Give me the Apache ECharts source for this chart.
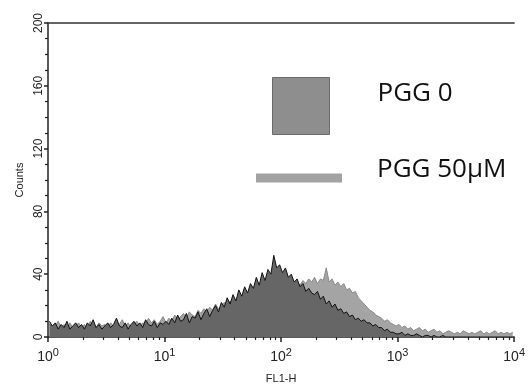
<!DOCTYPE html>
<html>
<head>
<meta charset="utf-8">
<script src="https://cdn.jsdelivr.net/npm/echarts@6/dist/echarts.min.js"></script>
<style>
  html, body { margin: 0; padding: 0; background: #fff; }
  #chart { width: 528px; height: 389px; }
</style>
</head>
<body>
<div id="chart"></div>
<script>
// FL1-H histogram: 160 log-spaced channels over 4 decades (40 channels per decade)
const channelsPerDecade = 40;
const seriesNames = ['PGG 0', 'PGG 50μM'];
const xTickLabels = ['10^0', '10^1', '10^2', '10^3', '10^4'];
const yTicks = [0, 40, 80, 120, 160, 200];

// Counts per channel, PGG 0 (dark histogram)
const countsPGG0 = [
  10,7,9,5,8,6,10,5,7,9,
  6,8,5,9,7,11,6,8,5,7,
  9,6,8,12,7,6,9,5,8,10,
  7,9,6,11,8,7,10,6,9,8,
  10,8,12,9,14,10,11,15,9,13,
  12,16,11,15,18,13,17,20,16,22,
  19,25,21,27,23,30,26,32,28,34,
  31,38,33,41,36,43,40,52,44,46,
  41,44,38,40,35,37,32,34,29,31,
  28,27,29,24,26,21,23,19,21,17,
  18,15,16,13,14,11,12,10,11,9,
  9,7,8,6,6,4,5,3,3,2,
  2,3,1,2,1,1,2,1,0,1,
  1,0,1,0,0,1,0,0,0,0,
  0,0,0,0,0,0,0,0,0,0,
  0,0,0,0,0,0,0,0,0,0
];

// Counts per channel, PGG 50μM (light histogram)
const countsPGG50 = [
  8,5,7,10,6,8,5,9,6,7,
  9,6,8,5,10,7,6,9,7,8,
  6,9,7,5,8,11,7,9,6,8,
  10,7,9,8,12,9,11,8,10,13,
  9,12,10,14,11,13,15,12,16,14,
  13,17,15,18,16,19,17,21,18,20,
  22,19,23,21,24,22,26,23,25,27,
  24,28,26,29,27,30,28,31,29,32,
  30,33,31,34,32,35,33,36,34,37,
  35,38,34,37,36,44,35,37,33,35,
  32,34,30,31,28,29,25,23,21,19,
  17,16,14,13,12,10,11,9,8,7,
  8,6,7,5,6,4,5,6,4,5,
  3,4,5,3,4,2,3,4,3,2,
  3,2,4,3,2,3,2,3,4,2,
  3,2,3,4,2,3,2,3,2,3
];

function toPairs(counts) {
  return counts.map((c, i) => [Math.pow(10, (i + 0.5) / channelsPerDecade), c]);
}

const supMap = {};
xTickLabels.forEach(t => { const p = t.split('^'); supMap[Math.pow(10, +p[1])] = p; });

const chart = echarts.init(document.getElementById('chart'), null, { renderer: 'canvas' });
const font = 'Liberation Sans, Arial, sans-serif';

chart.setOption({
  animation: false,
  backgroundColor: '#ffffff',
  grid: { left: 48, right: 4, top: 23, bottom: 51, show: false },
  legend: [
    {
      data: [{ name: seriesNames[0], itemStyle: { color: '#8e8e8e', borderColor: '#6a6a6a', borderWidth: 1 } }],
      left: 267, top: 72,
      icon: 'rect', itemWidth: 57, itemHeight: 57,
      formatter: n => '{t|' + n + '}',
      textStyle: { rich: { t: { fontFamily: 'Open Sans', fontSize: 26, color: '#111', padding: [0, 0, 24, 43] } } },
      selectedMode: false
    },
    {
      data: [{ name: seriesNames[1], itemStyle: { color: '#a2a2a2' } }],
      left: 251, top: 152,
      icon: 'rect', itemWidth: 86, itemHeight: 9,
      formatter: n => '{t|' + n + '}',
      textStyle: { rich: { t: { fontFamily: 'Open Sans', fontSize: 26, color: '#111', padding: [0, 0, 16, 30] } } },
      selectedMode: false
    }
  ],
  xAxis: [{
    type: 'log', logBase: 10, min: 1, max: 10000,
    name: 'FL1-H', nameLocation: 'middle', nameGap: 36,
    nameTextStyle: { fontFamily: font, fontSize: 11, color: '#222' },
    axisLine: { lineStyle: { color: '#222', width: 1.5 } },
    axisTick: { length: 5, lineStyle: { color: '#222', width: 1.5 } },
    minorTick: { show: true, splitNumber: 9, length: 3, lineStyle: { color: '#222', width: 1.2 } },
    splitLine: { show: false },
    axisLabel: {
      margin: 10,
      formatter: function (v) {
        const p = supMap[v];
        return p ? '{b|' + p[0] + '}{s|' + p[1] + '}' : '';
      },
      rich: {
        b: { fontFamily: font, fontSize: 14, color: '#222' },
        s: { fontFamily: font, fontSize: 11, color: '#222', padding: [0, 0, 9, 0] }
      }
    }
  }, {
    type: 'value', position: 'top', min: 0, max: 1,
    axisLine: { show: true, onZero: false, lineStyle: { color: '#333', width: 1.5 } },
    axisTick: { show: false }, axisLabel: { show: false }, splitLine: { show: false }
  }],
  yAxis: {
    type: 'value', min: yTicks[0], max: yTicks[yTicks.length - 1], interval: 40,
    name: 'Counts', nameLocation: 'middle', nameGap: 15,
    nameTextStyle: { fontFamily: font, fontSize: 11, color: '#222' },
    axisLine: { show: true, lineStyle: { color: '#222', width: 1.5 } },
    axisTick: { show: true, length: 4, lineStyle: { color: '#222', width: 1.5 } },
    minorTick: { show: true, splitNumber: 4, length: 3, lineStyle: { color: '#222', width: 1.2 } },
    splitLine: { show: false },
    axisLabel: { rotate: 90, margin: 3, fontFamily: font, fontSize: 12, color: '#222' }
  },
  series: [
    {
      name: seriesNames[1], type: 'line', data: toPairs(countsPGG50),
      symbol: 'none', z: 2,
      itemStyle: { color: '#a2a2a2' },
      lineStyle: { color: '#8a8a8a', width: 1 },
      areaStyle: { color: '#a4a4a4', opacity: 1 }
    },
    {
      name: seriesNames[0], type: 'line', data: toPairs(countsPGG0),
      symbol: 'none', z: 3,
      itemStyle: { color: '#8e8e8e' },
      lineStyle: { color: '#111', width: 1 },
      areaStyle: { color: '#666666', opacity: 1 }
    }
  ]
});
</script>
</body>
</html>
